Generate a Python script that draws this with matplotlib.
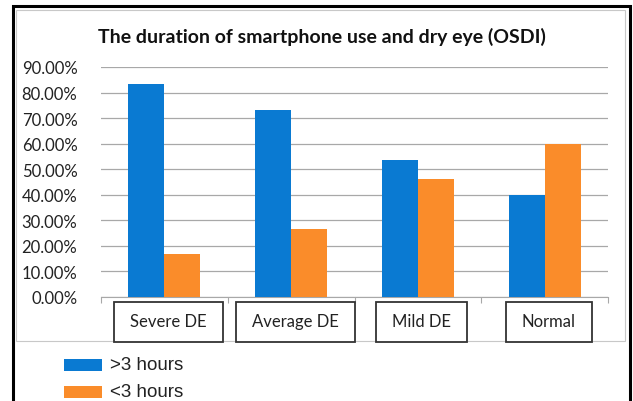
import matplotlib
matplotlib.use('Agg')
import matplotlib.pyplot as plt
import numpy as np
from matplotlib.patches import Rectangle
from matplotlib.ticker import FuncFormatter

categories = ['Severe DE', 'Average DE', 'Mild DE', 'Normal']
over_3h = [83.3, 73.3, 53.8, 40.0]
under_3h = [16.7, 26.7, 46.2, 60.0]
series_names = ['>3 hours', '<3 hours']
blue = '#0a7ad2'
orange = '#fa8c2a'

plt.rcParams['font.family'] = ['Lato', 'DejaVu Sans']

fig = plt.figure(figsize=(6.33, 4.02), dpi=100)
W, H = 633, 402

def fx(px):
    return px / W

def fy(py):
    return 1 - py / H

# outer frame and chart-area border
fig.patches.append(Rectangle((fx(13), fy(406)), fx(617), 399 / H, transform=fig.transFigure,
                             fill=False, edgecolor='black', linewidth=2.2))
fig.patches.append(Rectangle((fx(16), fy(342)), fx(609), 331 / H, transform=fig.transFigure,
                             fill=False, edgecolor='#c8c8c8', linewidth=0.8))

ax = fig.add_axes([fx(101), fy(298), fx(507), (298 - 68) / H])
x = np.arange(len(categories))
w = 0.285
ax.bar(x - w / 2, over_3h, w, color=blue, label=series_names[0], zorder=3)
ax.bar(x + w / 2, under_3h, w, color=orange, label=series_names[1], zorder=3)

ax.set_xlim(-0.5, len(categories) - 0.5)
ax.set_ylim(0, 90)
ax.set_yticks(np.arange(0, 91, 10))
ax.yaxis.set_major_formatter(FuncFormatter(lambda v, p: f'{v:.2f}%'))
ax.grid(axis='y', color='#a8a8a8', linewidth=0.9, zorder=0)
for s in ['top', 'right', 'left']:
    ax.spines[s].set_visible(False)
ax.spines['bottom'].set_color('#a8a8a8')
ax.tick_params(axis='y', length=0, labelsize=12, pad=17, labelcolor='#222222')
ax.set_xticks(np.arange(-0.5, len(categories), 1))
ax.set_xticklabels([])
ax.tick_params(axis='x', length=4, color='#a8a8a8')

# category labels in boxes below the axis
fig.canvas.draw()
renderer = fig.canvas.get_renderer()
for i, c in enumerate(categories):
    xc = ax.transData.transform((i, 0))[0] + 4
    t = fig.text(xc / W, fy(322), c, ha='center', va='center', fontsize=12, color='#222222', zorder=5)
    bb = t.get_window_extent(renderer)
    fig.patches.append(Rectangle((fx(bb.x0 - 16), fy(343)), (bb.width + 32) / W, 40 / H,
                                 transform=fig.transFigure, facecolor='white',
                                 edgecolor='#333333', linewidth=1.3, zorder=4))

fig.text(fx(322), fy(37), 'The duration of smartphone use and dry eye (OSDI)', ha='center', va='center',
         fontsize=14, fontweight='bold', color='#111111')

# legend
for j, (name, col) in enumerate(zip(series_names, [blue, orange])):
    yc = 366 + j * 27
    fig.patches.append(Rectangle((fx(64), fy(yc + 6)), fx(38), 12 / H, transform=fig.transFigure,
                                 facecolor=col, edgecolor='none'))
    fig.text(fx(110), fy(yc), name, ha='left', va='center', fontsize=13.5,
             family='Liberation Sans', color='#222222')

fig.savefig('out.png', dpi=100)
